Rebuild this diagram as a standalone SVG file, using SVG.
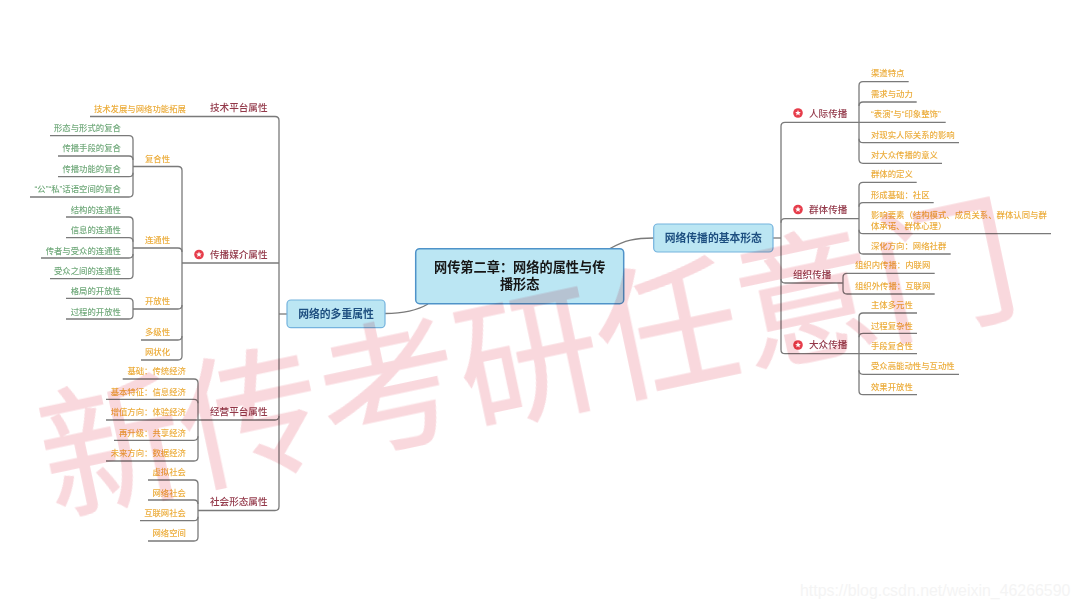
<svg xmlns="http://www.w3.org/2000/svg" width="1080" height="608" viewBox="0 0 1080 608">
<style>
text{font-family:"Liberation Sans","Noto Sans CJK SC",sans-serif;dominant-baseline:central}
.c path{fill:none;stroke:#7a7a7a;stroke-width:1.3}
.o,.g,.r,.s,.m{transform:translateY(-.3px)}
.o{font-size:8.4px;fill:#ecad3c;font-weight:500}
.g{font-size:8.4px;fill:#72aa7c;font-weight:500}
.r{font-size:9.6px;fill:#93394a;font-weight:500}
.e{text-anchor:end}
.s{font-size:10.8px;font-weight:700;fill:#1f4f80;text-anchor:middle}
.m{font-size:13.2px;font-weight:700;fill:#161616;text-anchor:middle}
.b{fill:#bbe6f3;stroke:#74b3de;stroke-width:1.2}
.b0{fill:#bbe6f3;stroke:#4f93c9;stroke-width:1.5}
.i{fill:#e63e4c}
.t{fill:#fff}
.wm{font-family:"Noto Sans CJK SC",sans-serif;font-weight:400;font-size:142px;fill:#f9d8dd;stroke:#f9d8dd;stroke-width:.8;mix-blend-mode:multiply}
.u{font-family:"Liberation Sans",sans-serif;font-size:15.9px;fill:#f4f4f4}
</style>
<defs>
<g id="star"><circle r="4.8" class="i"/><polygon class="t" points="0,-2.9 .8,-1 2.8,-.9 1.3,.4 1.8,2.4 0,1.3 -1.8,2.4 -1.3,.4 -2.8,-.9 -.8,-1"/></g>
<filter id="soft" x="0" y="0" width="1080" height="608" filterUnits="userSpaceOnUse"><feGaussianBlur stdDeviation=".45"/></filter>
</defs>
<rect width="1080" height="608" fill="#fff"/>
<g filter="url(#soft)">
<g id="connectors" class="c">
<path d="M385 313.5C405 313.5 418 310 428 304"/>
<path d="M610 248.5C625 240 635 238 654 238"/>
<path d="M287 314H279"/>
<path d="M90 116.5H275Q279 116.5 279 120.5V506.5Q279 510.5 275 510.5H198"/>
<path d="M182 263H279"/>
<path d="M106 420H275Q279 420 279 416"/>
<path d="M133 166.5H178Q182 166.5 182 170.5V356Q182 360 178 360H141"/>
<path d="M133 248H178Q182 248 182 252"/>
<path d="M133 309H178Q182 309 182 305"/>
<path d="M141 340H178Q182 340 182 336"/>
<path d="M50 135.7H129Q133 135.7 133 139.7V193Q133 197 129 197H30"/>
<path d="M58 156H129Q133 156 133 160"/>
<path d="M58 176.7H129Q133 176.7 133 172.7"/>
<path d="M66 217H129Q133 217 133 221V274.7Q133 278.7 129 278.7H50"/>
<path d="M66 237.7H129Q133 237.7 133 241.7"/>
<path d="M41 258H129Q133 258 133 254"/>
<path d="M66 298.3H129Q133 298.3 133 302.3V315Q133 319 129 319H66"/>
<path d="M122.7 379H194Q198 379 198 383V457Q198 461 194 461H106"/>
<path d="M106 399.3H194Q198 399.3 198 403.3"/>
<path d="M114 440.3H194Q198 440.3 198 436.3"/>
<path d="M148 480H194Q198 480 198 484V537Q198 541 194 541H148"/>
<path d="M148 500H194Q198 500 198 504"/>
<path d="M140 520.7H194Q198 520.7 198 516.7"/>
<path d="M773 238H781"/>
<path d="M859 122.3H785Q781 122.3 781 126.3V349.7Q781 353.7 785 353.7H859"/>
<path d="M859 218.7H785Q781 218.7 781 222.7"/>
<path d="M843 283H785Q781 283 781 279"/>
<path d="M908.7 81.7H863Q859 81.7 859 85.7V159.3Q859 163.3 863 163.3H942"/>
<path d="M916.7 102H863Q859 102 859 106"/>
<path d="M945.7 122.3H859"/>
<path d="M959 142.7H863Q859 142.7 859 138.7"/>
<path d="M916.7 182.3H863Q859 182.3 859 186.3V250Q859 254 863 254H950.7"/>
<path d="M933.7 202.7H863Q859 202.7 859 206.7"/>
<path d="M1051 233.7H863Q859 233.7 859 229.7"/>
<path d="M934.7 273.3H847Q843 273.3 843 277.3V290Q843 294 847 294H934.7"/>
<path d="M917 313H863Q859 313 859 317V390.7Q859 394.7 863 394.7H917"/>
<path d="M917 333.3H863Q859 333.3 859 337.3"/>
<path d="M917 353.7H859"/>
<path d="M959 374.3H863Q859 374.3 859 370.3"/>
</g>
<g id="root"><rect class="b0" x="415.7" y="248.7" width="208" height="55" rx="4"/><text class="m" x="519.7" y="268">网传第二章：网络的属性与传</text><text class="m" x="519.7" y="285.3">播形态</text></g>
<g id="topic-left"><rect class="b" x="287" y="300" width="98" height="27.7" rx="4"/><text class="s" x="336" y="314">网络的多重属性</text></g>
<g id="topic-right"><rect class="b" x="653.7" y="224" width="119.3" height="28" rx="4"/><text class="s" x="713.3" y="238.3">网络传播的基本形态</text></g>
<g id="n-tech"><text class="r" x="210" y="108">技术平台属性</text></g>
<g id="n-tech-1"><text class="o e" x="186" y="109">技术发展与网络功能拓展</text></g>
<g id="n-media"><use href="#star" x="199" y="254.5"/><text class="r" x="210" y="255">传播媒介属性</text></g>
<g id="n-fuhe"><text class="o" x="145" y="159">复合性</text></g>
<g id="n-fuhe-1"><text class="g e" x="121" y="128">形态与形式的复合</text></g>
<g id="n-fuhe-2"><text class="g e" x="121" y="148.7">传播手段的复合</text></g>
<g id="n-fuhe-3"><text class="g e" x="121" y="169">传播功能的复合</text></g>
<g id="n-fuhe-4"><text class="g e" x="121" y="189.5">“公”“私”话语空间的复合</text></g>
<g id="n-lian"><text class="o" x="145" y="240.5">连通性</text></g>
<g id="n-lian-1"><text class="g e" x="121" y="210">结构的连通性</text></g>
<g id="n-lian-2"><text class="g e" x="121" y="230">信息的连通性</text></g>
<g id="n-lian-3"><text class="g e" x="121" y="251">传者与受众的连通性</text></g>
<g id="n-lian-4"><text class="g e" x="121" y="271">受众之间的连通性</text></g>
<g id="n-kai"><text class="o" x="145" y="301.3">开放性</text></g>
<g id="n-kai-1"><text class="g e" x="121" y="291.3">格局的开放性</text></g>
<g id="n-kai-2"><text class="g e" x="121" y="312">过程的开放性</text></g>
<g id="n-duo"><text class="o" x="145" y="332">多级性</text></g>
<g id="n-wang"><text class="o" x="145" y="352.3">网状化</text></g>
<g id="n-econ"><text class="r" x="210" y="411.5">经营平台属性</text></g>
<g id="n-econ-1"><text class="o e" x="186" y="371.7">基础：传统经济</text></g>
<g id="n-econ-2"><text class="o e" x="186" y="392">基本特征：信息经济</text></g>
<g id="n-econ-3"><text class="o e" x="186" y="412.3">增值方向：体验经济</text></g>
<g id="n-econ-4"><text class="o e" x="186" y="433">再升级：共享经济</text></g>
<g id="n-econ-5"><text class="o e" x="186" y="453.3">未来方向：数据经济</text></g>
<g id="n-soc"><text class="r" x="210" y="501.7">社会形态属性</text></g>
<g id="n-soc-1"><text class="o e" x="186" y="472.6">虚拟社会</text></g>
<g id="n-soc-2"><text class="o e" x="186" y="493">网络社会</text></g>
<g id="n-soc-3"><text class="o e" x="186" y="513">互联网社会</text></g>
<g id="n-soc-4"><text class="o e" x="186" y="533.7">网络空间</text></g>
<g id="n-ren"><use href="#star" x="798" y="113"/><text class="r" x="809" y="113.5">人际传播</text></g>
<g id="n-ren-1"><text class="o" x="871" y="73.3">渠道特点</text></g>
<g id="n-ren-2"><text class="o" x="871" y="94">需求与动力</text></g>
<g id="n-ren-3"><text class="o" x="871" y="114.5">“表演”与“印象整饰”</text></g>
<g id="n-ren-4"><text class="o" x="871" y="135">对现实人际关系的影响</text></g>
<g id="n-ren-5"><text class="o" x="871" y="155.3">对大众传播的意义</text></g>
<g id="n-qun"><use href="#star" x="798" y="209.5"/><text class="r" x="809" y="209.7">群体传播</text></g>
<g id="n-qun-1"><text class="o" x="871" y="174.7">群体的定义</text></g>
<g id="n-qun-2"><text class="o" x="871" y="195">形成基础：社区</text></g>
<g id="n-qun-3"><text class="o" x="871" y="215.7">影响要素（结构模式、成员关系、群体认同与群</text><text class="o" x="871" y="226.5">体承诺、群体心理）</text></g>
<g id="n-qun-4"><text class="o" x="871" y="246.7">深化方向：网络社群</text></g>
<g id="n-zu"><text class="r" x="793" y="274.7">组织传播</text></g>
<g id="n-zu-1"><text class="o" x="855" y="265.7">组织内传播：内联网</text></g>
<g id="n-zu-2"><text class="o" x="855" y="286">组织外传播：互联网</text></g>
<g id="n-da"><use href="#star" x="798" y="345"/><text class="r" x="809" y="345.3">大众传播</text></g>
<g id="n-da-1"><text class="o" x="871" y="305.3">主体多元性</text></g>
<g id="n-da-2"><text class="o" x="871" y="326">过程复杂性</text></g>
<g id="n-da-3"><text class="o" x="871" y="346">手段复合性</text></g>
<g id="n-da-4"><text class="o" x="871" y="366.7">受众高能动性与互动性</text></g>
<g id="n-da-5"><text class="o" x="871" y="387">效果开放性</text></g>
</g>
<text class="wm" transform="translate(40 452) rotate(-12)">新传考研任意门</text>
<text class="u" x="800" y="590">https://blog.csdn.net/weixin_46266590</text>
</svg>
